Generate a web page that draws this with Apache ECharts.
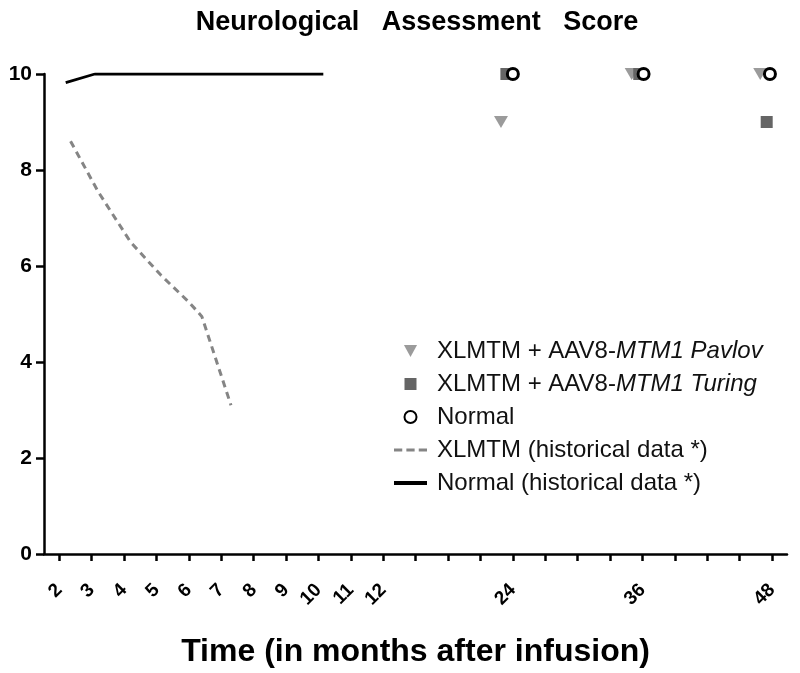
<!DOCTYPE html>
<html>
<head>
<meta charset="utf-8">
<script src="https://cdn.jsdelivr.net/npm/echarts@6/dist/echarts.min.js"></script>
<style>
  html, body { margin: 0; padding: 0; background: #fff; }
  #chart { width: 800px; height: 673px; }
</style>
</head>
<body>
<div id="chart"></div>
<script>
// x axis is broken: 1 month per tick up to 12, then 3 months per tick
const xTickMonths = [2, 3, 4, 5, 6, 7, 8, 9, 10, 11, 12, 15, 18, 21, 24, 27, 30, 33, 36, 39, 42, 45, 48]
const xLabelMonths = [2, 3, 4, 5, 6, 7, 8, 9, 10, 11, 12, 24, 36, 48]
const yTicks = [0, 2, 4, 6, 8, 10]

const pavlovMonths = [22.9, 35.0, 46.9]
const pavlovScores = [9, 10, 10]
const turingMonths = [23.4, 35.7, 47.5]
const turingScores = [10, 10, 9]
const normalMonths = [24.0, 36.1, 47.8]
const normalScores = [10, 10, 10]
const xlmtmHistMonths = [2.35, 3.2, 4.2, 5.15, 6.0, 6.4, 7.3]
const xlmtmHistScores = [8.6, 7.55, 6.5, 5.8, 5.25, 4.95, 3.1]
const normalHistMonths = [2.2, 3.1, 10.15]
const normalHistScores = [9.82, 10, 10]

const names = {
  pavlov: 'XLMTM + AAV8-MTM1 Pavlov',
  turing: 'XLMTM + AAV8-MTM1 Turing',
  normal: 'Normal',
  xlmtmHist: 'XLMTM (historical data *)',
  normalHist: 'Normal (historical data *)',
}

// month -> axis position, and back
const toAxis = (m) => (m <= 12 ? m - 2 : 10 + (m - 12) / 3)
const fromAxis = (p) => Math.round(p <= 10 ? p + 2 : 12 + (p - 10) * 3)
const pairs = (xs, ys) => xs.map((m, i) => [toAxis(m), ys[i]])

const FONT = 'Liberation Sans, Arial, sans-serif'

const chart = echarts.init(document.getElementById('chart'))

chart.setOption({
  backgroundColor: '#fff',
  animation: false,
  title: {
    text: 'Neurological   Assessment   Score',
    left: 412,
    textAlign: 'center',
    top: 4,
    textStyle: { fontFamily: FONT, fontSize: 27, fontWeight: 'bold', color: '#000' },
  },
  grid: { left: 44, right: 13, top: 74, bottom: 105 },
  legend: {
    orient: 'vertical',
    left: 389,
    top: 334,
    itemWidth: 33,
    itemHeight: 12,
    itemGap: 9,
    symbolKeepAspect: true,
    data: [
      { name: names.pavlov, icon: 'path://M0,0L12,0L6,11Z' },
      { name: names.turing, icon: 'path://M0,0H11V11H0Z' },
      { name: names.normal },
      { name: names.xlmtmHist, icon: 'path://M0,0H8V3H0Z M12,0H20V3H12Z M24,0H32V3H24Z' },
      { name: names.normalHist, icon: 'path://M0,0H33V4H0Z' },
    ],
    textStyle: {
      fontFamily: FONT,
      fontSize: 24,
      color: '#111',
      padding: [0, 0, 0, 5],
      rich: {
        n: { fontFamily: FONT, fontSize: 24, color: '#111' },
        i: { fontFamily: FONT, fontSize: 24, color: '#111', fontStyle: 'italic' },
      },
    },
    formatter: (name) => {
      if (name === names.pavlov) return '{n|XLMTM + AAV8-}{i|MTM1 Pavlov}'
      if (name === names.turing) return '{n|XLMTM + AAV8-}{i|MTM1 Turing}'
      return '{n|' + name + '}'
    },
  },
  xAxis: {
    type: 'value',
    min: -0.47,
    max: 22.46,
    name: 'Time (in months after infusion)',
    nameLocation: 'middle',
    nameGap: 82,
    nameTextStyle: { fontFamily: FONT, fontSize: 32, fontWeight: 'bold', color: '#000' },
    axisLine: { show: true, onZero: false, lineStyle: { color: '#000', width: 2.5 } },
    axisTick: {
      show: true,
      length: 7,
      lineStyle: { color: '#000', width: 2.5 },
      customValues: xTickMonths.map(toAxis),
    },
    axisLabel: {
      show: true,
      rotate: 45,
      margin: 33,
      fontFamily: FONT,
      fontSize: 19,
      fontWeight: 'bold',
      color: '#000',
      customValues: xLabelMonths.map(toAxis),
      formatter: (v) => String(fromAxis(v)),
    },
    splitLine: { show: false },
  },
  yAxis: {
    type: 'value',
    min: 0,
    max: 10,
    interval: 2,
    axisLine: { show: true, onZero: false, lineStyle: { color: '#000', width: 2.5 } },
    axisTick: { show: true, length: 8, lineStyle: { color: '#000', width: 2.5 } },
    axisLabel: {
      margin: 12,
      fontFamily: FONT,
      fontSize: 21,
      fontWeight: 'bold',
      color: '#000',
      customValues: yTicks,
    },
    splitLine: { show: false },
  },
  series: [
    {
      name: names.xlmtmHist,
      type: 'line',
      symbol: 'none',
      data: pairs(xlmtmHistMonths, xlmtmHistScores),
      lineStyle: { color: '#858585', width: 3, type: [7, 5] },
      itemStyle: { color: '#858585' },
    },
    {
      name: names.normalHist,
      type: 'line',
      symbol: 'none',
      data: pairs(normalHistMonths, normalHistScores),
      lineStyle: { color: '#000', width: 2.8 },
      itemStyle: { color: '#000' },
    },
    {
      name: names.pavlov,
      type: 'scatter',
      symbol: 'triangle',
      symbolRotate: 180,
      symbolSize: [14, 12],
      data: pairs(pavlovMonths, pavlovScores),
      itemStyle: { color: '#9b9b9b', opacity: 1 },
    },
    {
      name: names.turing,
      type: 'scatter',
      symbol: 'rect',
      symbolSize: 12,
      data: pairs(turingMonths, turingScores),
      itemStyle: { color: '#656565', opacity: 1 },
    },
    {
      name: names.normal,
      type: 'scatter',
      symbol: 'circle',
      symbolSize: 11,
      data: pairs(normalMonths, normalScores),
      itemStyle: { color: '#fff', borderColor: '#000', borderWidth: 3, opacity: 1 },
    },
  ],
})
</script>
</body>
</html>
